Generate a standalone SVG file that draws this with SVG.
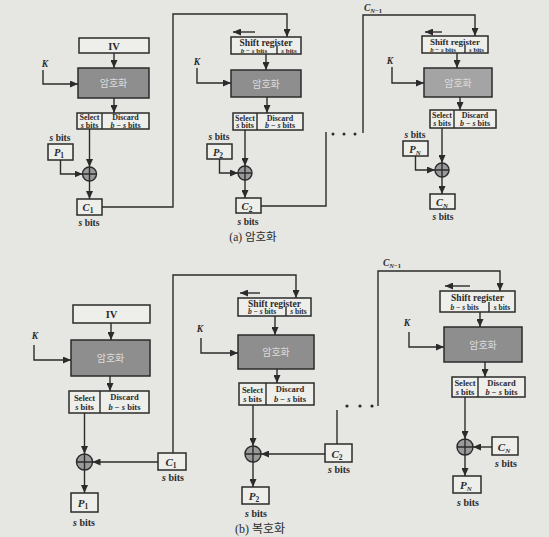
<svg xmlns="http://www.w3.org/2000/svg" width="549" height="537" viewBox="0 0 549 537">
<defs>
<marker id="ah" markerUnits="userSpaceOnUse" markerWidth="8" markerHeight="7" refX="8" refY="3.5" orient="auto">
<path d="M0,0 L8,3.5 L0,7 z" fill="#2b2b2b"/>
</marker>
<style>
.bg{fill:#e6e6e3}
.box{fill:#eeeeeb;stroke:#2b2b2b;stroke-width:1.5}
.enc{fill:#8e8e8e;stroke:#2b2b2b;stroke-width:1.5}
.ln{fill:none;stroke:#2b2b2b;stroke-width:1.4}
.ar{fill:none;stroke:#2b2b2b;stroke-width:1.4;marker-end:url(#ah)}
.xor{fill:#9a9a9a;stroke:#2b2b2b;stroke-width:1.4}
.t{font-family:"Liberation Serif",serif;font-weight:bold;fill:#2b2b2b;text-anchor:middle}
.i{font-style:italic}
.ko{font-family:"Noto Sans CJK KR",sans-serif;fill:#dcdcdc;text-anchor:middle;font-size:10px}
.cap{font-family:"Liberation Serif","Noto Sans CJK KR",serif;fill:#2b2b2b;text-anchor:middle}
.dot{fill:#2b2b2b}
</style>
</defs>
<rect class="bg" x="0" y="0" width="549" height="537"/>

<!-- connectors -->
<g id="connectors">
<!-- (a) col 1 -->
<line class="ar" x1="114" y1="53" x2="114" y2="68"/>
<line class="ar" x1="114" y1="98" x2="114" y2="113"/>
<path class="ar" d="M43,70 V84 H78"/>
<line class="ar" x1="89.5" y1="129" x2="89.5" y2="167"/>
<path class="ar" d="M60.5,160 V174 H82.5"/>
<line class="ar" x1="89.5" y1="181" x2="89.5" y2="199"/>
<path class="ar" d="M102,207 H173 V14 H287 V37"/>
<!-- (a) col 2 -->
<line class="ar" x1="255" y1="32" x2="233" y2="32"/>
<line class="ar" x1="266" y1="54" x2="266" y2="70"/>
<path class="ar" d="M197,68 V83 H231"/>
<line class="ar" x1="267" y1="97" x2="267" y2="113"/>
<line class="ar" x1="245" y1="130" x2="245" y2="166"/>
<path class="ar" d="M219.5,159 V173 H238"/>
<line class="ar" x1="245" y1="180" x2="245" y2="198"/>
<path class="ln" d="M261,206 H326 V132"/>
<!-- (a) col 3 -->
<path class="ar" d="M363,133 V15 H475 V36"/>
<line class="ar" x1="442" y1="32" x2="425" y2="32"/>
<line class="ar" x1="457" y1="53" x2="457" y2="68"/>
<path class="ar" d="M392,67 V83 H424"/>
<line class="ar" x1="460" y1="97" x2="460" y2="110"/>
<line class="ar" x1="442" y1="128" x2="442" y2="163"/>
<path class="ar" d="M415.5,156 V170 H435"/>
<line class="ar" x1="442" y1="177" x2="442" y2="194"/>
<!-- (b) col 1 -->
<line class="ar" x1="111" y1="323" x2="111" y2="340"/>
<line class="ar" x1="110" y1="376" x2="110" y2="391"/>
<path class="ar" d="M34,345 V360 H71"/>
<line class="ar" x1="84.5" y1="413" x2="84.5" y2="454"/>
<line class="ar" x1="84.5" y1="470" x2="84.5" y2="493"/>
<line class="ar" x1="158" y1="462" x2="92.5" y2="462"/>
<path class="ar" d="M173,453 V275 H296 V298"/>
<!-- (b) col 2 -->
<line class="ar" x1="260" y1="293" x2="240" y2="293"/>
<line class="ar" x1="275" y1="316" x2="275" y2="335"/>
<path class="ar" d="M201,338 V353 H238"/>
<line class="ar" x1="277" y1="369" x2="277" y2="383"/>
<line class="ar" x1="253" y1="405" x2="253" y2="446"/>
<line class="ar" x1="253" y1="462" x2="253" y2="487"/>
<line class="ar" x1="325" y1="454" x2="261" y2="454"/>
<path class="ln" d="M337,444 V410"/>
<!-- (b) col 3 -->
<path class="ar" d="M378,406 V271 H500 V291"/>
<line class="ar" x1="470" y1="286" x2="445" y2="286"/>
<line class="ar" x1="480" y1="312" x2="480" y2="327"/>
<path class="ar" d="M409,332 V347 H444"/>
<line class="ar" x1="485" y1="362" x2="485" y2="377"/>
<line class="ar" x1="465" y1="397" x2="465" y2="439"/>
<line class="ar" x1="465" y1="455" x2="465" y2="476"/>
<line class="ar" x1="492" y1="447" x2="473" y2="447"/>
</g>

<!-- ===== (a) Encryption ===== -->
<g id="a_iv"><rect class="box" x="79" y="38" width="70" height="15"/><text class="t" x="114" y="49.5" font-size="10.5">IV</text></g>
<g id="a_k1"><text class="t i" x="45" y="67" font-size="9.5">K</text></g>
<g id="a_enc1"><rect class="enc" x="78" y="68" width="71" height="30"/><text class="ko" x="113.5" y="87">암호화</text></g>
<g id="a_sel1"><rect class="box" x="77" y="113" width="72" height="16"/><line class="ln" x1="102" y1="113" x2="102" y2="129"/>
<text class="t" x="89.5" y="120" font-size="8">Select</text><text class="t" x="89.5" y="127.5" font-size="8"><tspan class="i">s</tspan> bits</text>
<text class="t" x="125.5" y="120" font-size="8">Discard</text><text class="t" x="125.5" y="127.5" font-size="8"><tspan class="i">b</tspan> − <tspan class="i">s</tspan> bits</text></g>
<g id="a_p1"><text class="t" x="60" y="141" font-size="9.5"><tspan class="i">s</tspan> bits</text><rect class="box" x="48" y="144" width="25" height="16"/><text class="t i" x="59" y="156" font-size="10.5">P<tspan dy="2" font-size="7.5" font-style="normal">1</tspan></text></g>
<g id="a_xor1"><circle class="xor" cx="89.5" cy="174" r="7"/><path class="ln" d="M82.5,174 H96.5 M89.5,167 V181"/></g>
<g id="a_c1"><rect class="box" x="77" y="199" width="25" height="16"/><text class="t i" x="88" y="211" font-size="10.5">C<tspan dy="2" font-size="7.5" font-style="normal">1</tspan></text><text class="t" x="89" y="226" font-size="9.5"><tspan class="i">s</tspan> bits</text></g>

<g id="a_sr2"><rect class="box" x="231" y="37" width="70" height="17"/><line class="ln" x1="277" y1="46" x2="277" y2="54"/>
<text class="t" x="266" y="45.5" font-size="9.5">Shift register</text>
<text class="t" x="254" y="52.5" font-size="7"><tspan class="i">b</tspan> − <tspan class="i">s</tspan> bits</text><text class="t" x="289" y="52.5" font-size="7"><tspan class="i">s</tspan> bits</text></g>
<g id="a_k2"><text class="t i" x="197" y="65" font-size="9.5">K</text></g>
<g id="a_enc2"><rect class="enc" x="231" y="70" width="70" height="27"/><text class="ko" x="266" y="87.5">암호화</text></g>
<g id="a_sel2"><rect class="box" x="233" y="113" width="70" height="17"/><line class="ln" x1="257" y1="113" x2="257" y2="130"/>
<text class="t" x="245" y="120.5" font-size="8">Select</text><text class="t" x="245" y="128" font-size="8"><tspan class="i">s</tspan> bits</text>
<text class="t" x="280" y="120.5" font-size="8">Discard</text><text class="t" x="280" y="128" font-size="8"><tspan class="i">b</tspan> − <tspan class="i">s</tspan> bits</text></g>
<g id="a_p2"><text class="t" x="219" y="140" font-size="9.5"><tspan class="i">s</tspan> bits</text><rect class="box" x="207" y="144" width="25" height="15"/><text class="t i" x="218" y="155.5" font-size="10.5">P<tspan dy="2" font-size="7.5" font-style="normal">2</tspan></text></g>
<g id="a_xor2"><circle class="xor" cx="245" cy="173" r="7"/><path class="ln" d="M238,173 H252 M245,166 V180"/></g>
<g id="a_c2"><rect class="box" x="236" y="198" width="25" height="15"/><text class="t i" x="247" y="209.5" font-size="10.5">C<tspan dy="2" font-size="7.5" font-style="normal">2</tspan></text><text class="t" x="248" y="225" font-size="9.5"><tspan class="i">s</tspan> bits</text></g>
<g id="a_dots"><circle class="dot" cx="333" cy="134" r="1.5"/><circle class="dot" cx="344" cy="134" r="1.5"/><circle class="dot" cx="355" cy="134" r="1.5"/></g>

<g id="a_cn1"><text class="t i" x="373" y="11" font-size="9.5">C<tspan dy="2" font-size="6.5" font-style="italic">N</tspan><tspan dy="0" font-size="6.5" font-style="normal">−1</tspan></text></g>
<g id="a_sr3"><rect class="box" x="422" y="36" width="66" height="17"/><line class="ln" x1="465" y1="45" x2="465" y2="53"/>
<text class="t" x="455" y="44.5" font-size="9">Shift register</text>
<text class="t" x="443" y="51.5" font-size="6.8"><tspan class="i">b</tspan> − <tspan class="i">s</tspan> bits</text><text class="t" x="476.5" y="51.5" font-size="6.8"><tspan class="i">s</tspan> bits</text></g>
<g id="a_k3"><text class="t i" x="390" y="64" font-size="9.5">K</text></g>
<g id="a_enc3"><rect class="enc" x="424" y="68" width="68" height="29" style="fill:#a4a4a4"/><text class="ko" x="458" y="86.5">암호화</text></g>
<g id="a_sel3"><rect class="box" x="430" y="110" width="66" height="18"/><line class="ln" x1="454" y1="110" x2="454" y2="128"/>
<text class="t" x="442" y="118" font-size="8">Select</text><text class="t" x="442" y="125.5" font-size="8"><tspan class="i">s</tspan> bits</text>
<text class="t" x="475" y="118" font-size="8">Discard</text><text class="t" x="475" y="125.5" font-size="8"><tspan class="i">b</tspan> − <tspan class="i">s</tspan> bits</text></g>
<g id="a_pn"><text class="t" x="415" y="138" font-size="9.5"><tspan class="i">s</tspan> bits</text><rect class="box" x="403" y="141" width="25" height="15"/><text class="t i" x="415" y="152.5" font-size="10.5">P<tspan dy="2" font-size="7">N</tspan></text></g>
<g id="a_xor3"><circle class="xor" cx="442" cy="170" r="7"/><path class="ln" d="M435,170 H449 M442,163 V177"/></g>
<g id="a_cn"><rect class="box" x="430" y="194" width="25" height="15"/><text class="t i" x="442" y="205.5" font-size="10.5">C<tspan dy="2" font-size="7">N</tspan></text><text class="t" x="443" y="220" font-size="9.5"><tspan class="i">s</tspan> bits</text></g>

<g id="a_caption"><text class="cap" x="253" y="241" font-size="11.5">(a) 암호화</text></g>

<!-- ===== (b) Decryption ===== -->
<g id="b_iv"><rect class="box" x="73" y="305" width="77" height="18"/><text class="t" x="111.5" y="318" font-size="10.5">IV</text></g>
<g id="b_k1"><text class="t i" x="35" y="339" font-size="9.5">K</text></g>
<g id="b_enc1"><rect class="enc" x="71" y="340" width="79" height="36"/><text class="ko" x="110.5" y="362" font-size="11">암호화</text></g>
<g id="b_sel1"><rect class="box" x="69" y="391" width="80" height="22"/><line class="ln" x1="100" y1="391" x2="100" y2="413"/>
<text class="t" x="84.5" y="401" font-size="8.5">Select</text><text class="t" x="84.5" y="410" font-size="8.5"><tspan class="i">s</tspan> bits</text>
<text class="t" x="124.5" y="400" font-size="8.5">Discard</text><text class="t" x="124.5" y="409.5" font-size="8.5"><tspan class="i">b</tspan> − <tspan class="i">s</tspan> bits</text></g>
<g id="b_xor1"><circle class="xor" cx="84.5" cy="462" r="8"/><path class="ln" d="M76.5,462 H92.5 M84.5,454 V470"/></g>
<g id="b_p1"><rect class="box" x="71" y="493" width="27" height="19"/><text class="t i" x="83" y="507" font-size="11">P<tspan dy="2" font-size="7.5" font-style="normal">1</tspan></text><text class="t" x="84" y="526" font-size="10"><tspan class="i">s</tspan> bits</text></g>
<g id="b_c1"><rect class="box" x="158" y="453" width="28" height="17"/><text class="t i" x="171" y="466" font-size="11">C<tspan dy="2" font-size="7.5" font-style="normal">1</tspan></text><text class="t" x="173" y="481" font-size="10"><tspan class="i">s</tspan> bits</text></g>

<g id="b_sr2"><rect class="box" x="238" y="298" width="73" height="18"/><line class="ln" x1="286" y1="307" x2="286" y2="316"/>
<text class="t" x="274.5" y="306.5" font-size="9.5">Shift register</text>
<text class="t" x="262" y="314" font-size="7.5"><tspan class="i">b</tspan> − <tspan class="i">s</tspan> bits</text><text class="t" x="298.5" y="314" font-size="7.5"><tspan class="i">s</tspan> bits</text></g>
<g id="b_k2"><text class="t i" x="200" y="332" font-size="9.5">K</text></g>
<g id="b_enc2"><rect class="enc" x="238" y="335" width="76" height="34"/><text class="ko" x="276" y="356" font-size="11">암호화</text></g>
<g id="b_sel2"><rect class="box" x="239" y="383" width="75" height="22"/><line class="ln" x1="266" y1="383" x2="266" y2="405"/>
<text class="t" x="252.5" y="393" font-size="8.5">Select</text><text class="t" x="252.5" y="402" font-size="8.5"><tspan class="i">s</tspan> bits</text>
<text class="t" x="290" y="392" font-size="8.5">Discard</text><text class="t" x="290" y="401.5" font-size="8.5"><tspan class="i">b</tspan> − <tspan class="i">s</tspan> bits</text></g>
<g id="b_xor2"><circle class="xor" cx="253" cy="454" r="8"/><path class="ln" d="M245,454 H261 M253,446 V462"/></g>
<g id="b_p2"><rect class="box" x="242" y="487" width="27" height="17"/><text class="t i" x="254" y="500" font-size="11">P<tspan dy="2" font-size="7.5" font-style="normal">2</tspan></text><text class="t" x="256" y="517" font-size="10"><tspan class="i">s</tspan> bits</text></g>
<g id="b_c2"><rect class="box" x="325" y="444" width="27" height="18"/><text class="t i" x="337" y="457.5" font-size="11">C<tspan dy="2" font-size="7.5" font-style="normal">2</tspan></text><text class="t" x="339" y="473" font-size="10"><tspan class="i">s</tspan> bits</text></g>
<g id="b_dots"><circle class="dot" cx="347" cy="406" r="1.6"/><circle class="dot" cx="360" cy="406" r="1.6"/><circle class="dot" cx="372" cy="406" r="1.6"/></g>

<g id="b_cn1"><text class="t i" x="392" y="266" font-size="9.5">C<tspan dy="2" font-size="6.5" font-style="italic">N</tspan><tspan dy="0" font-size="6.5" font-style="normal">−1</tspan></text></g>
<g id="b_sr3"><rect class="box" x="440" y="291" width="75" height="21"/><line class="ln" x1="489" y1="302" x2="489" y2="312"/>
<text class="t" x="477.5" y="301" font-size="9.5">Shift register</text>
<text class="t" x="464.5" y="309.5" font-size="7.5"><tspan class="i">b</tspan> − <tspan class="i">s</tspan> bits</text><text class="t" x="502" y="309.5" font-size="7.5"><tspan class="i">s</tspan> bits</text></g>
<g id="b_k3"><text class="t i" x="407" y="326" font-size="9.5">K</text></g>
<g id="b_enc3"><rect class="enc" x="444" y="327" width="78" height="35"/><text class="ko" x="483" y="348.5" font-size="11">암호화</text></g>
<g id="b_sel3"><rect class="box" x="452" y="377" width="73" height="20"/><line class="ln" x1="478" y1="377" x2="478" y2="397"/>
<text class="t" x="465" y="386" font-size="8.5">Select</text><text class="t" x="465" y="394.5" font-size="8.5"><tspan class="i">s</tspan> bits</text>
<text class="t" x="501.5" y="386" font-size="8.5">Discard</text><text class="t" x="501.5" y="394.5" font-size="8.5"><tspan class="i">b</tspan> − <tspan class="i">s</tspan> bits</text></g>
<g id="b_xor3"><circle class="xor" cx="465" cy="447" r="8"/><path class="ln" d="M457,447 H473 M465,439 V455"/></g>
<g id="b_cn"><rect class="box" x="492" y="437" width="26" height="18"/><text class="t i" x="504" y="450.5" font-size="11">C<tspan dy="2" font-size="7">N</tspan></text><text class="t" x="506" y="467" font-size="10"><tspan class="i">s</tspan> bits</text></g>
<g id="b_pn"><rect class="box" x="453" y="476" width="28" height="17"/><text class="t i" x="466" y="489" font-size="11">P<tspan dy="2" font-size="7">N</tspan></text><text class="t" x="468" y="506" font-size="10"><tspan class="i">s</tspan> bits</text></g>

<g id="b_caption"><text class="cap" x="260" y="533" font-size="12">(b) 복호화</text></g>
</svg>
